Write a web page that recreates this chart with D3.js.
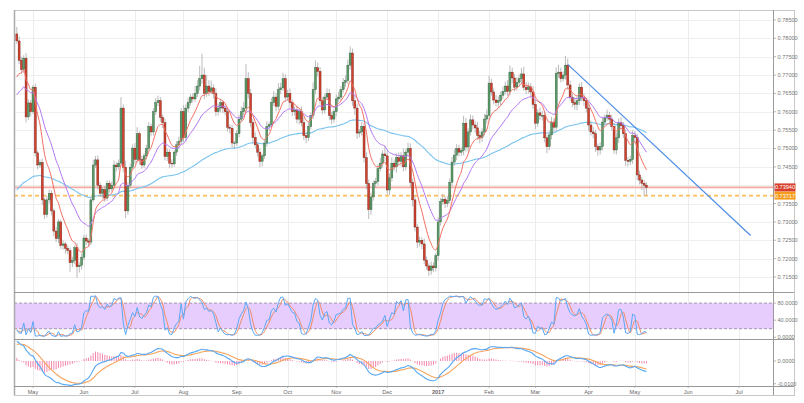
<!DOCTYPE html>
<html>
<head>
<meta charset="utf-8">
<script src="https://cdn.jsdelivr.net/npm/d3@7"></script>
<style>
body { margin: 0; background: #fff; }
svg text { font-family: "Liberation Sans", Arial, sans-serif; }
</style>
</head>
<body>
<svg id="chart" width="804" height="403"></svg>
<script>
// daily candles, first bar on this trading day
var startDate = '2016-04-21'
var firstOpen = 0.7812
var closes = [
	.7793,.7740,.7715,.7746,.7586,.7624,.7600,.7667,.7488,.7455,.7462,.7360,.7320,.7360,.7378,.7330,.7275,.7255,.7300,.7236,
	.7240,.7228,.7222,.7189,.7195,.7230,.7178,.7182,.7204,.7256,.7248,.7245,.7360,.7455,.7469,.7400,.7378,.7388,.7365,.7405,
	.7390,.7400,.7455,.7450,.7460,.7610,.7449,.7330,.7400,.7449,.7501,.7470,.7540,.7470,.7455,.7480,.7500,.7560,.7545,.7600,
	.7625,.7630,.7585,.7570,.7478,.7490,.7460,.7458,.7490,.7510,.7520,.7600,.7530,.7610,.7625,.7640,.7635,.7650,.7670,.7690,
	.7700,.7650,.7670,.7655,.7665,.7650,.7600,.7610,.7625,.7610,.7600,.7558,.7555,.7515,.7515,.7540,.7580,.7600,.7610,.7690,
	.7650,.7570,.7530,.7510,.7490,.7465,.7480,.7515,.7560,.7565,.7625,.7640,.7615,.7660,.7665,.7690,.7640,.7650,.7625,.7600,
	.7605,.7580,.7600,.7570,.7535,.7530,.7560,.7590,.7660,.7720,.7710,.7630,.7605,.7640,.7650,.7590,.7580,.7600,.7635,.7640,
	.7660,.7680,.7685,.7727,.7760,.7630,.7610,.7542,.7545,.7560,.7475,.7405,.7333,.7368,.7405,.7410,.7445,.7460,.7485,.7480,
	.7387,.7420,.7460,.7450,.7475,.7465,.7480,.7450,.7490,.7500,.7408,.7360,.7286,.7245,.7250,.7240,.7196,.7180,.7168,.7180,
	.7175,.7208,.7300,.7355,.7362,.7350,.7358,.7408,.7463,.7482,.7500,.7490,.7495,.7569,.7504,.7545,.7578,.7564,.7556,.7536,
	.7530,.7545,.7580,.7590,.7678,.7654,.7632,.7625,.7630,.7645,.7655,.7670,.7655,.7708,.7692,.7667,.7680,.7690,.7703,.7667,
	.7660,.7668,.7654,.7620,.7569,.7597,.7590,.7590,.7529,.7505,.7537,.7572,.7558,.7705,.7708,.7690,.7700,.7727,.7673,.7640,
	.7625,.7620,.7630,.7667,.7638,.7630,.7610,.7564,.7545,.7540,.7505,.7496,.7505,.7572,.7583,.7590,.7580,.7560,.7496,.7529,
	.7570,.7562,.7540,.7468,.7465,.7470,.7535,.7530,.7428,.7414,.7405,.7400,.7394
]
// wick lengths in pips above the body and below it
var wickUp = [
	19,12,10,8,14,10,8,6,10,6,8,10,6,12,10,8,6,12,8,6,
	10,6,8,8,10,6,12,8,10,8,10,6,8,14,10,12,8,6,10,8,
	8,10,12,8,10,30,10,18,8,10,10,14,18,6,10,8,10,12,8,10,
	12,14,10,8,12,10,8,10,6,10,12,10,18,10,12,8,10,20,16,35,
	58,20,30,16,20,10,14,12,10,8,12,10,8,10,6,10,12,14,16,40,
	18,12,10,14,8,10,6,10,14,8,12,16,12,18,14,16,12,10,14,8,
	10,12,10,14,16,10,12,8,20,20,14,12,10,8,14,12,10,8,12,14,
	10,12,14,16,18,12,14,12,8,12,10,14,10,12,8,10,12,14,10,22,
	14,12,16,10,12,14,10,20,8,16,14,10,12,8,10,8,14,10,8,12,
	10,8,12,10,14,8,12,10,14,16,12,10,8,20,14,10,14,12,10,16,
	12,10,14,16,20,12,10,14,12,10,14,12,16,18,12,10,14,12,16,20,
	14,12,10,16,12,10,14,12,10,8,12,14,10,16,20,12,10,25,18,12,
	10,14,12,10,14,12,8,10,12,14,10,8,12,14,10,16,10,12,10,14,
	12,16,10,12,8,10,14,12,10,12,8,10,8
]
var wickDown = [
	8,10,12,10,15,8,12,6,10,12,8,14,12,8,10,12,14,10,12,10,
	12,14,10,25,12,10,30,16,12,8,10,12,8,6,8,12,10,14,10,8,
	10,8,10,12,8,6,14,20,10,8,6,12,10,14,10,8,10,8,12,10,
	8,10,12,14,10,12,14,10,8,10,12,10,14,12,10,8,10,8,10,12,
	14,16,10,12,8,14,12,10,12,14,10,12,14,12,16,8,10,8,10,12,
	14,12,16,10,12,16,14,8,10,12,8,10,14,10,12,8,12,10,14,12,
	10,12,14,10,12,16,10,8,10,12,14,10,12,10,8,12,14,10,12,8,
	10,8,12,10,12,14,18,16,12,10,14,16,25,14,10,12,10,8,12,14,
	12,14,10,12,16,10,14,12,10,12,14,18,12,16,12,14,12,10,15,12,
	12,10,14,10,8,12,10,8,12,10,14,12,10,14,12,16,10,12,14,12,
	16,12,10,12,14,10,12,10,14,12,10,8,12,10,14,12,10,12,14,10,
	12,10,14,12,16,10,12,14,12,18,10,12,14,10,12,10,8,12,14,10,
	12,14,16,12,10,14,12,16,10,12,14,16,12,10,12,8,14,12,10,12,
	14,10,12,16,14,10,12,16,14,12,18,30,22
]

var priceTicks = [0.785, 0.78, 0.775, 0.77, 0.765, 0.76, 0.755, 0.75, 0.745, 0.735, 0.73, 0.725, 0.72, 0.715]
var priceGrid = [0.785, 0.78, 0.775, 0.77, 0.765, 0.76, 0.755, 0.75, 0.745, 0.74, 0.735, 0.73, 0.725, 0.72, 0.715]
var monthLabels = ['May', 'Jun', 'Jul', 'Aug', 'Sep', 'Oct', 'Nov', 'Dec', '2017', 'Feb', 'Mar', 'Apr', 'May', 'Jun', 'Jul']
var stochTicks = [80, 40, 0]
var stochLabels = ['80.0000', '40.0000', '0.0000']
var stochBand = [20, 80]
var macdTicks = [0, -0.01]
var macdLabels = ['0.0000', '-0.0100']
var lastPrice = 0.73940
var markPrice = 0.73717
var trendIdx = [238, 317]
var trendVal = [0.7729, 0.7263]

var seedFast = 0.7670, seedMid = 0.7631, seedSlow = 0.7379
var seedEma12 = 0.7745, seedEma26 = 0.7655, seedSignal = 0.0070

var left = 14, right = 773, outerRight = 794
var mainTop = 10, mainBot = 292, stochBot = 339, macdBot = 386, outerBot = 395

var svg = d3.select('#chart')

// trading days (weekdays) from the first bar
var days = []
var d = new Date(startDate + 'T12:00:00Z')
while (days.length < 335) {
	var wd = d.getUTCDay()
	if (wd !== 0 && wd !== 6) days.push(new Date(d))
	d = new Date(d.getTime() + 86400000)
}

var bars = closes.map(function(c, i) {
	var o = i === 0 ? firstOpen : closes[i - 1]
	return {
		i: i, o: o, c: c,
		h: Math.max(o, c) + (wickUp[i] || 0) / 10000,
		l: Math.min(o, c) - (wickDown[i] || 0) / 10000
	}
})

function ema(values, period, seed) {
	var k = 2 / (period + 1), prev = seed
	return values.map(function(v) { prev = prev + k * (v - prev); return prev })
}
var maFast = ema(closes, 9, seedFast)
var maMid = ema(closes, 21, seedMid)
var maSlow = ema(closes, 100, seedSlow)
var e12 = ema(closes, 12, seedEma12)
var e26 = ema(closes, 26, seedEma26)
var macd = e12.map(function(v, i) { return v - e26[i] })
var signal = ema(macd, 9, seedSignal)
var hist = macd.map(function(v, i) { return v - signal[i] })

var stochK = bars.map(function(b, i) {
	var w = bars.slice(Math.max(0, i - 13), i + 1)
	var hh = d3.max(w, function(x) { return x.h })
	var ll = d3.min(w, function(x) { return x.l })
	return 100 * (b.c - ll) / (hh - ll)
})
var stochD = stochK.map(function(v, i) {
	return d3.mean(stochK.slice(Math.max(0, i - 2), i + 1))
})

var x = d3.scaleLinear().domain([0, 267]).range([16.8, 634.9])
var y = d3.scaleLinear().domain([0.71091, 0.78772]).range([mainBot, mainTop])
var yS = d3.scaleLinear().domain([-4, 106]).range([stochBot, mainBot])
var yM = d3.scaleLinear().domain([-0.0110, 0.0097]).range([macdBot, stochBot])

// month ticks at the first trading day of each month
var monthIdx = []
for (var i = 1; i < days.length; i++) {
	if (days[i].getUTCMonth() !== days[i - 1].getUTCMonth()) monthIdx.push(i)
}
monthIdx = monthIdx.slice(0, monthLabels.length)

var defs = svg.append('defs')
function clip(id, y0, y1) {
	defs.append('clipPath').attr('id', id).append('rect')
		.attr('x', left).attr('y', y0).attr('width', right - left).attr('height', y1 - y0)
}
clip('cMain', mainTop, mainBot)
clip('cStoch', mainBot, stochBot)
clip('cMacd', stochBot, macdBot)

// grid
var grid = svg.append('g')
grid.selectAll('.hg').data(priceGrid).enter().append('line')
	.attr('x1', left).attr('x2', right)
	.attr('y1', function(v) { return Math.round(y(v)) + 0.5 })
	.attr('y2', function(v) { return Math.round(y(v)) + 0.5 })
	.attr('stroke', '#efefef')
grid.selectAll('.vg').data(monthIdx).enter().append('line')
	.attr('x1', function(i) { return Math.round(x(i)) + 0.5 })
	.attr('x2', function(i) { return Math.round(x(i)) + 0.5 })
	.attr('y1', mainTop).attr('y2', macdBot)
	.attr('stroke', '#ececec')

// main panel
var main = svg.append('g').attr('clip-path', 'url(#cMain)')

main.append('line')
	.attr('x1', left).attr('x2', right)
	.attr('y1', y(lastPrice)).attr('y2', y(lastPrice))
	.attr('stroke', '#f5aaa1').attr('stroke-width', 1.6)
main.append('line')
	.attr('x1', left).attr('x2', right)
	.attr('y1', y(markPrice)).attr('y2', y(markPrice))
	.attr('stroke', '#ffbe5c').attr('stroke-width', 1.6).attr('stroke-dasharray', '4,3')

var line = d3.line().x(function(v, i) { return x(i) }).curve(d3.curveMonotoneX)
main.append('path').attr('d', line.y(function(v) { return y(v) })(maSlow))
	.attr('fill', 'none').attr('stroke', '#79c3ef').attr('stroke-width', 1.1)

var candle = main.selectAll('.bar').data(bars).enter().append('g')
candle.append('line')
	.attr('x1', function(b) { return x(b.i) }).attr('x2', function(b) { return x(b.i) })
	.attr('y1', function(b) { return y(b.h) }).attr('y2', function(b) { return y(b.l) })
	.attr('stroke', '#a9a9a9').attr('stroke-width', 0.8)
candle.append('rect')
	.attr('x', function(b) { return x(b.i) - 1 })
	.attr('width', 2)
	.attr('y', function(b) { return y(Math.max(b.o, b.c)) })
	.attr('height', function(b) { return Math.max(0.8, Math.abs(y(b.o) - y(b.c))) })
	.attr('fill', function(b) { return b.c >= b.o ? '#5b9a68' : '#d2412d' })
	.attr('stroke', function(b) { return b.c >= b.o ? '#2f5e3a' : '#6e1f15' })
	.attr('stroke-width', 0.4)

main.append('path').attr('d', line.y(function(v) { return y(v) })(maMid))
	.attr('fill', 'none').attr('stroke', '#b377f5').attr('stroke-width', 1)
main.append('path').attr('d', line.y(function(v) { return y(v) })(maFast))
	.attr('fill', 'none').attr('stroke', '#f36f61').attr('stroke-width', 1)

main.append('line')
	.attr('x1', x(trendIdx[0])).attr('y1', y(trendVal[0]))
	.attr('x2', x(trendIdx[1])).attr('y2', y(trendVal[1]))
	.attr('stroke', '#4f8fe6').attr('stroke-width', 1.2)

// stochastic panel
var st = svg.append('g').attr('clip-path', 'url(#cStoch)')
st.append('rect')
	.attr('x', left).attr('width', right - left)
	.attr('y', yS(stochBand[1])).attr('height', yS(stochBand[0]) - yS(stochBand[1]))
	.attr('fill', '#e7cdfd')
st.selectAll('.band').data(stochBand).enter().append('line')
	.attr('x1', left).attr('x2', right)
	.attr('y1', function(v) { return yS(v) }).attr('y2', function(v) { return yS(v) })
	.attr('stroke', '#9a8aa6').attr('stroke-dasharray', '3,2').attr('stroke-width', 0.9)
st.append('path').attr('d', line.y(function(v) { return yS(v) })(stochD))
	.attr('fill', 'none').attr('stroke', '#f08a62').attr('stroke-width', 1)
st.append('path').attr('d', line.y(function(v) { return yS(v) }).curve(d3.curveLinear)(stochK))
	.attr('fill', 'none').attr('stroke', '#5aa8f6').attr('stroke-width', 1)
line.curve(d3.curveMonotoneX)

// macd panel
var mc = svg.append('g').attr('clip-path', 'url(#cMacd)')
mc.selectAll('.hb').data(hist).enter().append('line')
	.attr('x1', function(v, i) { return x(i) }).attr('x2', function(v, i) { return x(i) })
	.attr('y1', yM(0)).attr('y2', function(v) { return yM(v) })
	.attr('stroke', '#f27aa5').attr('stroke-width', 0.9)
mc.append('path').attr('d', line.y(function(v) { return yM(v) })(signal))
	.attr('fill', 'none').attr('stroke', '#f5a45e').attr('stroke-width', 1.1)
mc.append('path').attr('d', line.y(function(v) { return yM(v) })(macd))
	.attr('fill', 'none').attr('stroke', '#55a7f3').attr('stroke-width', 1.1)

// frame and separators
var frame = svg.append('g').attr('fill', 'none')
frame.append('rect').attr('x', left + 0.5).attr('y', mainTop + 0.5)
	.attr('width', outerRight - left).attr('height', outerBot - mainTop)
	.attr('stroke', '#c8c8c8')
frame.append('line').attr('x1', left + 0.5).attr('x2', left + 0.5)
	.attr('y1', mainTop).attr('y2', outerBot).attr('stroke', '#aaa').attr('stroke-width', 1.5)
frame.append('line').attr('x1', right + 0.5).attr('x2', right + 0.5)
	.attr('y1', mainTop).attr('y2', outerBot).attr('stroke', '#999')
;[mainBot, stochBot, macdBot].forEach(function(yy) {
	frame.append('line').attr('x1', left).attr('x2', outerRight)
		.attr('y1', yy + 0.5).attr('y2', yy + 0.5).attr('stroke', '#999')
})

// right axis labels
function axisLabels(ticks, labels, scale) {
	var g = svg.append('g')
	ticks.forEach(function(v, i) {
		var yy = scale(v)
		g.append('line').attr('x1', right).attr('x2', right + 3)
			.attr('y1', yy).attr('y2', yy).attr('stroke', '#999').attr('stroke-width', 0.7)
		g.append('text').attr('x', right + 4.5).attr('y', yy).attr('dy', '0.35em')
			.attr('font-size', 5.6).attr('fill', '#777').text(labels[i])
	})
}
axisLabels(priceTicks, priceTicks.map(function(v) { return v.toFixed(5) }), y)
axisLabels(stochTicks, stochLabels, yS)
axisLabels(macdTicks, macdLabels, yM)

// price tags
function tag(v, fill) {
	var yy = y(v)
	svg.append('rect').attr('x', right + 1.5).attr('y', yy - 4).attr('width', 21).attr('height', 8)
		.attr('fill', fill)
	svg.append('text').attr('x', right + 12).attr('y', yy).attr('dy', '0.35em')
		.attr('text-anchor', 'middle').attr('font-size', 5.6).attr('fill', '#fff').text(v.toFixed(5))
}
tag(markPrice, '#f59a1b')
tag(lastPrice, '#d8402c')

// month labels
var xl = svg.append('g')
monthIdx.forEach(function(i, k) {
	xl.append('line').attr('x1', x(i)).attr('x2', x(i))
		.attr('y1', macdBot).attr('y2', macdBot + 2).attr('stroke', '#999').attr('stroke-width', 0.7)
	xl.append('text').attr('x', x(i)).attr('y', 392).attr('dy', '0.35em')
		.attr('text-anchor', 'middle').attr('font-size', 5.6)
		.attr('font-weight', monthLabels[k] === '2017' ? 'bold' : 'normal')
		.attr('fill', '#666').text(monthLabels[k])
})
</script>
</body>
</html>
